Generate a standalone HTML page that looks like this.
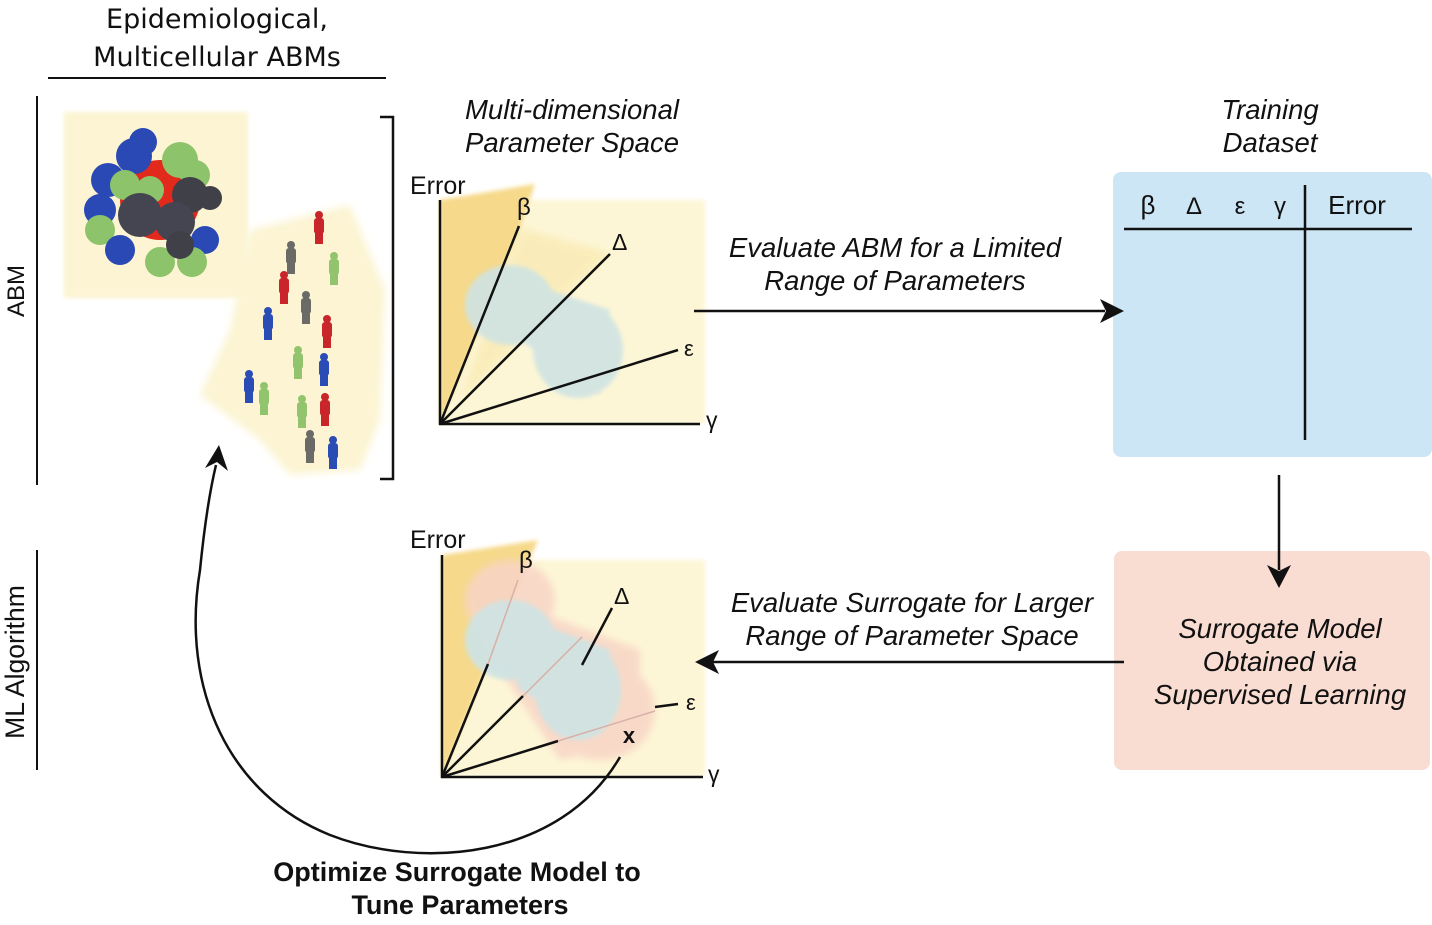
<!DOCTYPE html>
<html><head><meta charset="utf-8"><style>
html,body{margin:0;padding:0;background:#fff;}
svg{display:block;}
text{font-family:"Liberation Sans",sans-serif;fill:#111;}
.it{font-style:italic;font-size:27.5px;}
</style></head><body>
<svg width="1432" height="925" viewBox="0 0 1432 925" xmlns="http://www.w3.org/2000/svg">
<defs>
<filter id="bl" x="-20%" y="-20%" width="140%" height="140%"><feGaussianBlur stdDeviation="4"/></filter>
<filter id="bl2" x="-20%" y="-20%" width="140%" height="140%"><feGaussianBlur stdDeviation="2"/></filter>
</defs>

<!-- Title -->
<text x="217" y="28" font-size="27" text-anchor="middle" style="font-family:'DejaVu Sans','Liberation Sans',sans-serif">Epidemiological,</text>
<text x="217" y="66" font-size="27" text-anchor="middle" style="font-family:'DejaVu Sans','Liberation Sans',sans-serif">Multicellular ABMs</text>
<line x1="48" y1="78" x2="386" y2="78" stroke="#111" stroke-width="2"/>

<!-- side labels -->
<line x1="37" y1="96" x2="37" y2="485" stroke="#111" stroke-width="2"/>
<text transform="translate(24,291) rotate(-90)" font-size="24" text-anchor="middle">ABM</text>
<line x1="37" y1="550" x2="37" y2="770" stroke="#111" stroke-width="2"/>
<text transform="translate(24,662) rotate(-90)" font-size="26.5" text-anchor="middle">ML Algorithm</text>

<!-- bracket -->
<polyline points="380,117 393,117 393,479 380,479" fill="none" stroke="#111" stroke-width="2.5"/>

<!-- cells image -->
<rect x="64" y="112" width="184" height="186" fill="#fcf4d2" filter="url(#bl2)"/>
<g>
<circle cx="160" cy="200" r="40" fill="#e22a1c"/>
<circle cx="134" cy="156" r="18" fill="#2a49b5"/>
<circle cx="108" cy="180" r="17" fill="#2a49b5"/>
<circle cx="143" cy="142" r="14" fill="#2a49b5"/>
<circle cx="180" cy="160" r="18" fill="#8dc36a"/>
<circle cx="195" cy="175" r="15" fill="#8dc36a"/>
<circle cx="125" cy="185" r="15" fill="#8dc36a"/>
<circle cx="150" cy="190" r="14" fill="#8dc36a"/>
<circle cx="100" cy="210" r="16" fill="#2a49b5"/>
<circle cx="190" cy="195" r="18" fill="#404048"/>
<circle cx="140" cy="215" r="22" fill="#454552"/>
<circle cx="175" cy="222" r="20" fill="#454552"/>
<circle cx="100" cy="230" r="15" fill="#8dc36a"/>
<circle cx="205" cy="240" r="14" fill="#2a49b5"/>
<circle cx="120" cy="250" r="15" fill="#2a49b5"/>
<circle cx="160" cy="262" r="15" fill="#8dc36a"/>
<circle cx="192" cy="262" r="15" fill="#8dc36a"/>
<circle cx="180" cy="245" r="14" fill="#404048"/>
<circle cx="210" cy="198" r="12" fill="#404048"/>
</g>

<!-- people -->
<path d="M250,230 L350,205 L385,290 L380,420 L360,470 L290,475 L260,440 L200,395 L230,330 Z" fill="#fcf4d2" filter="url(#bl)"/>
<g>
<g fill="#c8262a">
<rect x="314" y="218" width="10" height="16" rx="3"/><circle cx="319" cy="215" r="4"/><rect x="315" y="232" width="8" height="12"/>
<rect x="279" y="278" width="10" height="16" rx="3"/><circle cx="284" cy="275" r="4"/><rect x="280" y="292" width="8" height="12"/>
<rect x="322" y="322" width="10" height="16" rx="3"/><circle cx="327" cy="319" r="4"/><rect x="323" y="336" width="8" height="12"/>
<rect x="320" y="400" width="10" height="16" rx="3"/><circle cx="325" cy="397" r="4"/><rect x="321" y="414" width="8" height="12"/>
</g>
<g fill="#6a6a66">
<rect x="286" y="248" width="10" height="16" rx="3"/><circle cx="291" cy="245" r="4"/><rect x="287" y="262" width="8" height="12"/>
<rect x="301" y="298" width="10" height="16" rx="3"/><circle cx="306" cy="295" r="4"/><rect x="302" y="312" width="8" height="12"/>
<rect x="305" y="437" width="10" height="16" rx="3"/><circle cx="310" cy="434" r="4"/><rect x="306" y="451" width="8" height="12"/>
</g>
<g fill="#92c46e">
<rect x="329" y="259" width="10" height="16" rx="3"/><circle cx="334" cy="256" r="4"/><rect x="330" y="273" width="8" height="12"/>
<rect x="293" y="353" width="10" height="16" rx="3"/><circle cx="298" cy="350" r="4"/><rect x="294" y="367" width="8" height="12"/>
<rect x="259" y="389" width="10" height="16" rx="3"/><circle cx="264" cy="386" r="4"/><rect x="260" y="403" width="8" height="12"/>
<rect x="297" y="402" width="10" height="16" rx="3"/><circle cx="302" cy="399" r="4"/><rect x="298" y="416" width="8" height="12"/>
</g>
<g fill="#2a4cb5">
<rect x="263" y="314" width="10" height="16" rx="3"/><circle cx="268" cy="311" r="4"/><rect x="264" y="328" width="8" height="12"/>
<rect x="319" y="360" width="10" height="16" rx="3"/><circle cx="324" cy="357" r="4"/><rect x="320" y="374" width="8" height="12"/>
<rect x="244" y="377" width="10" height="16" rx="3"/><circle cx="249" cy="374" r="4"/><rect x="245" y="391" width="8" height="12"/>
<rect x="328" y="443" width="10" height="16" rx="3"/><circle cx="333" cy="440" r="4"/><rect x="329" y="457" width="8" height="12"/>
</g>
</g>

<!-- top chart -->
<text x="572" y="119" class="it" text-anchor="middle">Multi-dimensional</text>
<text x="572" y="152" class="it" text-anchor="middle">Parameter Space</text>
<rect x="440" y="200" width="265" height="224" fill="#fdf6d6" filter="url(#bl2)"/>
<polygon points="440,200 535,184 520,228 440,424" fill="#f6d98a" filter="url(#bl2)"/>
<polygon points="520,228 610,253 560,300 460,400" fill="#f8e7a8" opacity="0.6" filter="url(#bl)"/>
<g fill="#cfe3e3" filter="url(#bl2)" opacity="0.9">
<ellipse cx="510" cy="305" rx="45" ry="40"/>
<ellipse cx="578" cy="350" rx="45" ry="48"/>
<polygon points="490,270 610,310 600,395 520,340"/>
</g>
<g stroke="#111" stroke-width="2.5" fill="none">
<line x1="440" y1="200" x2="440" y2="425"/>
<line x1="439" y1="424" x2="700" y2="424"/>
<line x1="440" y1="424" x2="519" y2="226"/>
<line x1="440" y1="424" x2="610" y2="254"/>
<line x1="440" y1="424" x2="678" y2="350"/>
</g>
<text x="410" y="194" font-size="25">Error</text>
<text x="517" y="215" font-size="24">β</text>
<text x="612" y="250" font-size="23">Δ</text>
<text x="684" y="356" font-size="22">ε</text>
<text x="706" y="428" font-size="23">γ</text>

<!-- training dataset -->
<text x="1270" y="119" class="it" text-anchor="middle">Training</text>
<text x="1270" y="152" class="it" text-anchor="middle">Dataset</text>
<rect x="1113" y="172" width="319" height="285" rx="8" fill="#cde6f5"/>
<text x="1148" y="214" font-size="26" text-anchor="middle">β</text>
<text x="1194" y="214" font-size="24" text-anchor="middle">Δ</text>
<text x="1240" y="214" font-size="24" text-anchor="middle">ε</text>
<text x="1280" y="214" font-size="24" text-anchor="middle">γ</text>
<text x="1357" y="214" font-size="26" text-anchor="middle">Error</text>
<line x1="1124" y1="229" x2="1412" y2="229" stroke="#111" stroke-width="2.5"/>
<line x1="1305" y1="185" x2="1305" y2="440" stroke="#111" stroke-width="2.5"/>

<!-- surrogate box -->
<rect x="1114" y="551" width="316" height="219" rx="8" fill="#f9dcd2"/>
<text x="1280" y="638" class="it" text-anchor="middle">Surrogate Model</text>
<text x="1280" y="671" class="it" text-anchor="middle">Obtained via</text>
<text x="1280" y="704" class="it" text-anchor="middle">Supervised Learning</text>

<!-- bottom chart -->
<rect x="442" y="560" width="263" height="217" fill="#fdf6d6" filter="url(#bl2)"/>
<polygon points="442,555 538,540 520,582 442,777" fill="#f6d98a" filter="url(#bl2)"/>
<g fill="#f8d4c6" filter="url(#bl)" opacity="0.85">
<ellipse cx="510" cy="600" rx="45" ry="40"/>
<ellipse cx="600" cy="710" rx="55" ry="50"/>
<polygon points="480,590 640,650 640,740 560,760 480,640"/>
</g>
<g fill="#cfe3e3" filter="url(#bl2)" opacity="0.95">
<ellipse cx="510" cy="640" rx="45" ry="40"/>
<ellipse cx="578" cy="690" rx="43" ry="50"/>
<polygon points="490,605 610,650 600,735 520,690"/>
</g>
<g stroke="#111" stroke-width="2.5" fill="none">
<line x1="442" y1="555" x2="442" y2="778"/>
<line x1="441" y1="777" x2="703" y2="777"/>
<line x1="442" y1="777" x2="488" y2="664"/>
<line x1="442" y1="777" x2="523" y2="696"/>
<line x1="442" y1="777" x2="558" y2="741"/>
<line x1="582" y1="665" x2="612" y2="608"/>
<line x1="655" y1="707" x2="678" y2="704"/>
</g>
<g stroke="#d8b0a8" stroke-width="1.5">
<line x1="488" y1="664" x2="518" y2="580"/>
<line x1="523" y1="696" x2="582" y2="637"/>
<line x1="558" y1="741" x2="655" y2="711"/>
</g>
<text x="410" y="548" font-size="25">Error</text>
<text x="519" y="568" font-size="24">β</text>
<text x="614" y="604" font-size="23">Δ</text>
<text x="686" y="710" font-size="22">ε</text>
<text x="708" y="782" font-size="23">γ</text>
<text x="629" y="743" font-size="22" font-weight="bold" text-anchor="middle">x</text>

<!-- arrows & labels (drawn last) -->
<text x="895" y="257" class="it" text-anchor="middle">Evaluate ABM for a Limited</text>
<text x="895" y="290" class="it" text-anchor="middle">Range of Parameters</text>
<line x1="694" y1="311" x2="1105" y2="311" stroke="#111" stroke-width="2.5"/>
<polygon points="1124,311 1100,299 1106,311 1100,323" fill="#111"/>

<line x1="1279" y1="475" x2="1279" y2="570" stroke="#111" stroke-width="2.5"/>
<polygon points="1279,588 1267,565 1279,571 1291,565" fill="#111"/>

<text x="912" y="612" class="it" text-anchor="middle">Evaluate Surrogate for Larger</text>
<text x="912" y="645" class="it" text-anchor="middle">Range of Parameter Space</text>
<line x1="1124" y1="662" x2="712" y2="662" stroke="#111" stroke-width="2.5"/>
<polygon points="695,662 719,650 713,662 719,674" fill="#111"/>

<path d="M620,757 C560,860 420,870 330,835 C230,795 180,690 200,570 C204,530 210,490 216,465" fill="none" stroke="#111" stroke-width="2.5"/>
<polygon points="219,445 205,468 217,462 228,471" fill="#111"/>

<text x="457" y="881" font-size="27" font-weight="bold" text-anchor="middle">Optimize Surrogate Model to</text>
<text x="460" y="914" font-size="27" font-weight="bold" text-anchor="middle">Tune Parameters</text>
</svg>
</body></html>
